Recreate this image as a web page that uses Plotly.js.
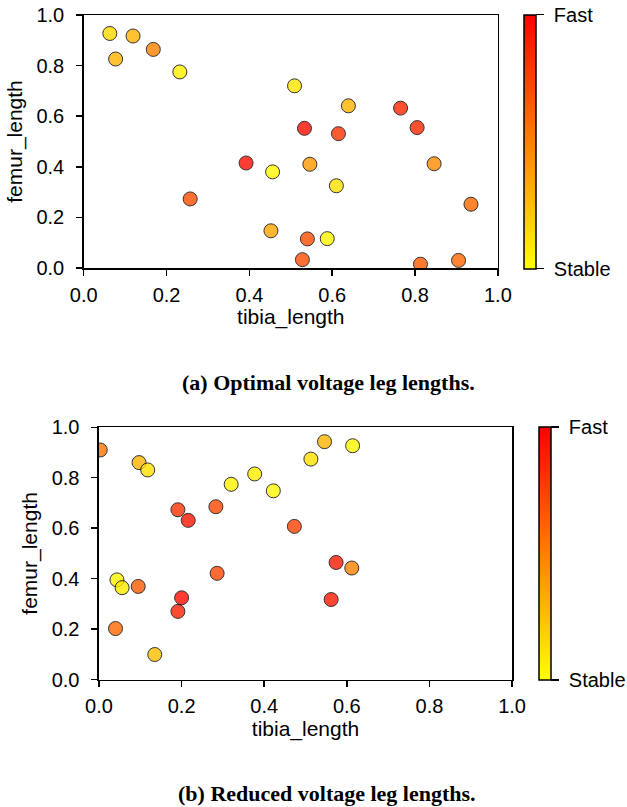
<!DOCTYPE html>
<html>
<head>
<meta charset="utf-8">
<script src="https://cdn.plot.ly/plotly-3.0.1.min.js"></script>
<style>html,body{margin:0;padding:0;background:#fff;}#chart{width:627px;height:807px;}</style>
</head>
<body>
<div id="chart"></div>
<script>
// (a) Optimal voltage
const tibiaA = [0.063, 0.077, 0.119, 0.168, 0.232, 0.509, 0.533, 0.392, 0.456, 0.546, 0.257, 0.452, 0.540, 0.528, 0.639, 0.765, 0.615, 0.805, 0.846, 0.610, 0.935, 0.588, 0.813, 0.905];
const femurA = [0.927, 0.826, 0.917, 0.864, 0.775, 0.720, 0.552, 0.415, 0.380, 0.410, 0.273, 0.147, 0.115, 0.033, 0.641, 0.632, 0.531, 0.555, 0.412, 0.325, 0.252, 0.116, 0.015, 0.030];
const speedA = [0.15, 0.30, 0.30, 0.50, 0.05, 0.10, 0.95, 0.95, 0.02, 0.40, 0.70, 0.35, 0.70, 0.70, 0.30, 0.85, 0.80, 0.85, 0.45, 0.12, 0.60, 0.03, 0.65, 0.60];
// (b) Reduced voltage
const tibiaB = [0.003, 0.097, 0.118, 0.191, 0.216, 0.283, 0.320, 0.377, 0.422, 0.473, 0.513, 0.0435, 0.056, 0.095, 0.040, 0.135, 0.191, 0.200, 0.286, 0.546, 0.614, 0.574, 0.612, 0.562];
const femurB = [0.910, 0.860, 0.831, 0.673, 0.631, 0.685, 0.774, 0.815, 0.748, 0.607, 0.874, 0.395, 0.364, 0.369, 0.202, 0.099, 0.270, 0.324, 0.421, 0.943, 0.927, 0.464, 0.442, 0.317];
const speedB = [0.55, 0.30, 0.12, 0.80, 0.92, 0.72, 0.05, 0.07, 0.02, 0.75, 0.12, 0.05, 0.08, 0.65, 0.60, 0.25, 0.88, 0.95, 0.72, 0.30, 0.03, 0.90, 0.50, 0.90];

const colorTickVals = [0, 1];
const colorTickText = ['Stable', 'Fast'];
const xTicks = [0, 0.2, 0.4, 0.6, 0.8, 1.0];
const captionA = '(a) Optimal voltage leg lengths.';
const captionB = '(b) Reduced voltage leg lengths.';

const W = 627, H = 807;
const px = v => v / W;
const py = v => 1 - v / H;

function marker(c, ax) {
  return {color: c, coloraxis: ax, size: 14, opacity: 0.8, line: {color: '#000', width: 1}};
}

const traces = [
  {type: 'scatter', mode: 'markers', x: tibiaA, y: femurA, xaxis: 'x', yaxis: 'y', marker: marker(speedA, 'coloraxis'), hoverinfo: 'skip'},
  {type: 'scatter', mode: 'markers', x: tibiaB, y: femurB, xaxis: 'x2', yaxis: 'y2', marker: marker(speedB, 'coloraxis2'), hoverinfo: 'skip'}
];

const sans = 'Liberation Sans, Arial, sans-serif';
function axis(domain, anchor, isX) {
  return {
    domain: domain, anchor: anchor, range: [0, 1], autorange: false,
    tickvals: xTicks, tickformat: '.1f',
    showline: true, mirror: true, linecolor: '#000', linewidth: 1.5,
    ticks: 'outside', ticklen: 6, tickwidth: 1.5, tickcolor: '#000',
    ticklabelstandoff: isX ? 2 : 8,
    showgrid: false, zeroline: false,
    tickfont: {family: sans, size: 20, color: '#000'},
    title: {text: isX ? 'tibia_length' : 'femur_length', font: {family: sans, size: 21, color: '#000'}, standoff: isX ? 4 : 8}
  };
}

function cbar(xLeft, yTop, yBot) {
  return {
    x: px(xLeft), xanchor: 'left', xpad: 0,
    y: py(yTop), yanchor: 'top', ypad: 0,
    len: (yBot - yTop) / H, lenmode: 'fraction',
    thickness: 12, outlinewidth: 1.5, outlinecolor: '#000',
    tickvals: colorTickVals, ticktext: colorTickText.map(t => '\u00a0' + t),
    ticks: 'outside', ticklen: 8, tickwidth: 1.5, tickcolor: '#000',
    tickfont: {family: sans, size: 20, color: '#000'}
  };
}

const cscale = [[0, 'rgb(255,255,0)'], [1, 'rgb(255,0,0)']];

const layout = {
  width: W, height: H,
  margin: {l: 0, r: 0, t: 0, b: 0},
  paper_bgcolor: '#fff', plot_bgcolor: '#fff',
  showlegend: false,
  xaxis: axis([px(84), px(499.5)], 'y', true),
  yaxis: axis([py(268), py(15)], 'x', false),
  xaxis2: axis([px(99.3), px(513.7)], 'y2', true),
  yaxis2: axis([py(679.5), py(427.3)], 'x2', false),
  coloraxis: {colorscale: cscale, cmin: 0, cmax: 1, colorbar: cbar(525.3, 14.5, 268)},
  coloraxis2: {colorscale: cscale, cmin: 0, cmax: 1, colorbar: cbar(540.7, 427, 680)},
  annotations: [
    {text: '<b>' + captionA + '</b>', xref: 'paper', yref: 'paper', x: px(330), y: py(383), xanchor: 'center', yanchor: 'middle', showarrow: false, font: {family: 'Liberation Serif, serif', size: 22, color: '#000'}},
    {text: '<b>' + captionB + '</b>', xref: 'paper', yref: 'paper', x: px(328), y: py(793), xanchor: 'center', yanchor: 'middle', showarrow: false, font: {family: 'Liberation Serif, serif', size: 22, color: '#000'}}
  ]
};

Plotly.newPlot('chart', traces, layout, {staticPlot: true, displayModeBar: false});
</script>
</body>
</html>
